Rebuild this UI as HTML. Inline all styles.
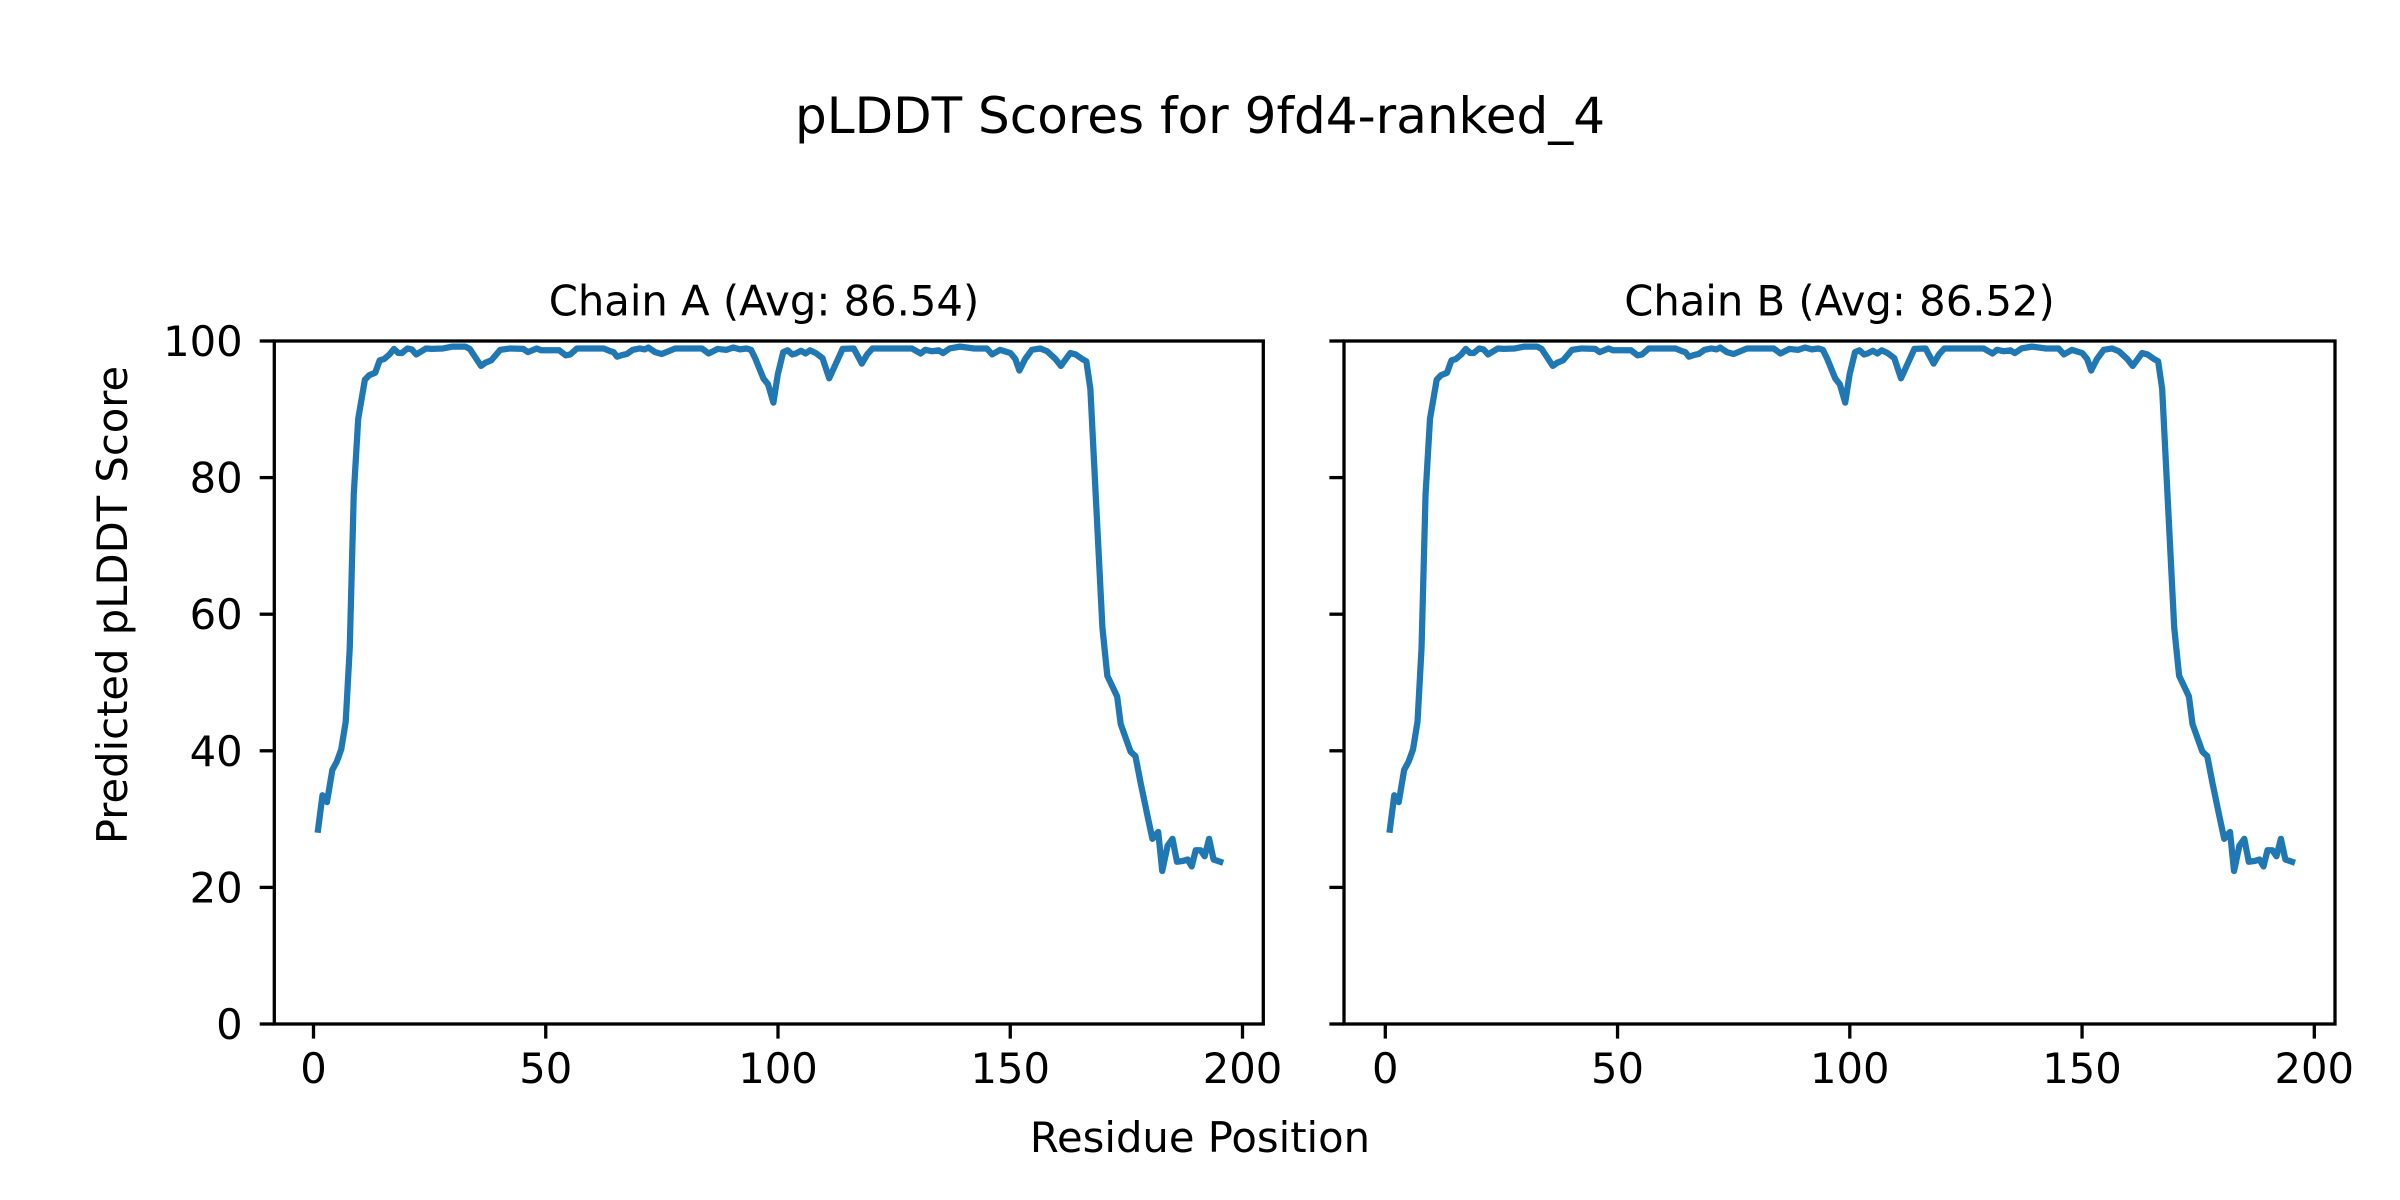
<!DOCTYPE html>
<html><head><meta charset="utf-8"><style>html,body{margin:0;padding:0;background:#fff}svg{display:block}</style></head>
<body>
<svg width="2400" height="1200" viewBox="0 0 2400 1200" xmlns="http://www.w3.org/2000/svg" font-family="'DejaVu Sans','Liberation Sans',sans-serif">
<rect width="2400" height="1200" fill="#fff"/>
<text x="1200" y="133" font-size="50" text-anchor="middle">pLDDT Scores for 9fd4-ranked_4</text>
<defs>
<g id="curve">
<polyline transform="translate(260,320) scale(0.44643,0.45914)" vector-effect="non-scaling-stroke" fill="none" stroke="#1f77b4" stroke-width="6.25" stroke-linejoin="round" stroke-linecap="square"
points="130,1110 140,1035 150,1050 162,980 172,962 182,935 192,875 201,715 210,380 220,215 235,130 245,120 258,115 268,88 278,85 290,75 300,63 310,72 318,72 330,62 340,64 350,75 362,68 372,62 385,63 410,62 430,58 460,58 470,63 495,100 505,93 518,88 538,65 560,62 590,63 600,70 620,62 630,66 670,66 685,77 695,75 710,62 770,62 785,68 792,70 800,80 812,76 822,74 835,65 850,62 862,64 870,60 885,70 900,74 930,62 990,62 1005,73 1025,63 1045,65 1060,60 1075,64 1090,62 1100,65 1110,85 1128,128 1138,140 1150,180 1160,118 1172,70 1182,66 1192,75 1200,73 1212,67 1222,73 1232,66 1245,72 1260,83 1275,127 1290,95 1305,63 1330,62 1340,80 1348,95 1360,75 1372,62 1385,62 1460,62 1480,73 1490,65 1505,68 1520,66 1530,72 1545,62 1568,58 1600,62 1628,62 1640,75 1658,65 1681,72 1692,85 1701,110 1714,85 1729,65 1748,62 1763,68 1782,85 1794,100 1815,72 1827,75 1842,85 1851,90 1860,150 1887,670 1898,775 1920,820 1928,880 1950,940 1961,950 1973,1010 1988,1080 1999,1130 2012,1115 2021,1200 2033,1145 2044,1130 2054,1180 2068,1178 2078,1175 2087,1190 2096,1155 2107,1155 2116,1168 2126,1130 2136,1175 2151,1180"/>
</g>
<g id="yt" stroke="#000" stroke-width="3.3">
<line x1="-14.6" y1="1024" x2="0" y2="1024"/><line x1="-14.6" y1="887.4" x2="0" y2="887.4"/><line x1="-14.6" y1="750.8" x2="0" y2="750.8"/><line x1="-14.6" y1="614.2" x2="0" y2="614.2"/><line x1="-14.6" y1="477.6" x2="0" y2="477.6"/><line x1="-14.6" y1="341" x2="0" y2="341"/>
</g>
<g id="xt" stroke="#000" stroke-width="3.3">
<line x1="313.5" y1="1024" x2="313.5" y2="1038.6"/><line x1="545.75" y1="1024" x2="545.75" y2="1038.6"/><line x1="778" y1="1024" x2="778" y2="1038.6"/><line x1="1010.25" y1="1024" x2="1010.25" y2="1038.6"/><line x1="1242.5" y1="1024" x2="1242.5" y2="1038.6"/>
</g>
<g id="xl" font-size="41.7" text-anchor="middle">
<text x="313.5" y="1083">0</text><text x="545.75" y="1083">50</text><text x="778" y="1083">100</text><text x="1010.25" y="1083">150</text><text x="1242.5" y="1083">200</text>
</g>
</defs>
<use href="#curve"/>
<use href="#yt" transform="translate(274.3,0)"/>
<use href="#xt"/>
<use href="#xl"/>
<rect x="274.3" y="341" width="989" height="683" fill="none" stroke="#000" stroke-width="3.3"/>
<g font-size="41.7" text-anchor="end">
<text x="242.7" y="1039">0</text><text x="242.7" y="902.4">20</text><text x="242.7" y="765.8">40</text><text x="242.7" y="629.2">60</text><text x="242.7" y="492.6">80</text><text x="242.7" y="356">100</text>
</g>
<text x="764" y="315.7" font-size="41.7" text-anchor="middle">Chain A (Avg: 86.54)</text>
<g transform="translate(1071.8,0)"><use href="#curve"/><use href="#xt"/><use href="#xl"/></g>
<use href="#yt" transform="translate(1344,0)"/>
<rect x="1344" y="341" width="991" height="683" fill="none" stroke="#000" stroke-width="3.3"/>
<text x="1839.5" y="315.7" font-size="41.7" text-anchor="middle">Chain B (Avg: 86.52)</text>
<text x="1200" y="1152" font-size="41.7" text-anchor="middle">Residue Position</text>
<text transform="translate(127,605) rotate(-90)" font-size="41.7" text-anchor="middle">Predicted pLDDT Score</text>
</svg>
</body></html>
